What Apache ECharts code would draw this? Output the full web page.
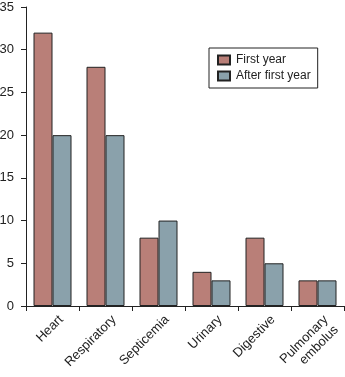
<!DOCTYPE html>
<html>
<head>
<meta charset="utf-8">
<script src="https://cdn.jsdelivr.net/npm/echarts@6/dist/echarts.min.js"></script>
<style>html,body{margin:0;padding:0;background:#fff;}#c{width:345px;height:377px;}</style>
</head>
<body>
<div id="c"></div>
<script>
var categories = ['Heart', 'Respiratory', 'Septicemia', 'Urinary', 'Digestive', 'Pulmonary\nembolus'];
var firstYear = [32, 28, 8, 4, 8, 3];
var afterFirstYear = [20, 20, 10, 3, 5, 3];
var yTicks = [0, 5, 10, 15, 20, 25, 30, 35];

var chart = echarts.init(document.getElementById('c'), null, {renderer: 'canvas'});
var font = 'Liberation Sans, Arial, Helvetica, sans-serif';
chart.setOption({
  animation: false,
  backgroundColor: '#fff',
  textStyle: {fontFamily: font},
  grid: {left: 26, right: 1, top: 7, bottom: 71, containLabel: false, outerBoundsMode: 'none'},
  legend: {
    orient: 'vertical',
    left: 209, top: 48,
    backgroundColor: '#fff',
    borderColor: '#222', borderWidth: 1, borderRadius: 0,
    padding: [6, 7, 6, 8],
    itemWidth: 12, itemHeight: 9, itemGap: 4,
    icon: 'rect',
    textStyle: {fontSize: 12, color: '#222', fontFamily: font, padding: [0, 0, 0, 1]},
    data: ['First year', 'After first year']
  },
  xAxis: {
    type: 'category',
    data: categories,
    axisLine: {lineStyle: {color: '#222', width: 1}},
    axisTick: {show: true, length: 5, lineStyle: {color: '#222'}},
    axisLabel: {rotate: 45, interval: 0, fontSize: 13, color: '#222', margin: 10, fontFamily: font, lineHeight: 14.5, padding: [0, -5, 0, 0], verticalAlign: 'top'}
  },
  yAxis: {
    type: 'value',
    min: yTicks[0], max: yTicks[yTicks.length - 1], interval: 5,
    axisLine: {show: true, lineStyle: {color: '#222', width: 1}},
    axisTick: {show: true, length: 5, lineStyle: {color: '#222'}},
    axisLabel: {fontSize: 13, color: '#222', margin: 12, fontFamily: font},
    splitLine: {show: false}
  },
  series: [
    {name: 'First year', type: 'bar', data: firstYear, barWidth: 19, barGap: '0%',
     itemStyle: {color: '#b97f78', borderColor: '#222', borderWidth: 1}},
    {name: 'After first year', type: 'bar', data: afterFirstYear, barWidth: 19,
     itemStyle: {color: '#8aa1ab', borderColor: '#222', borderWidth: 1}}
  ]
});
</script>
</body>
</html>
